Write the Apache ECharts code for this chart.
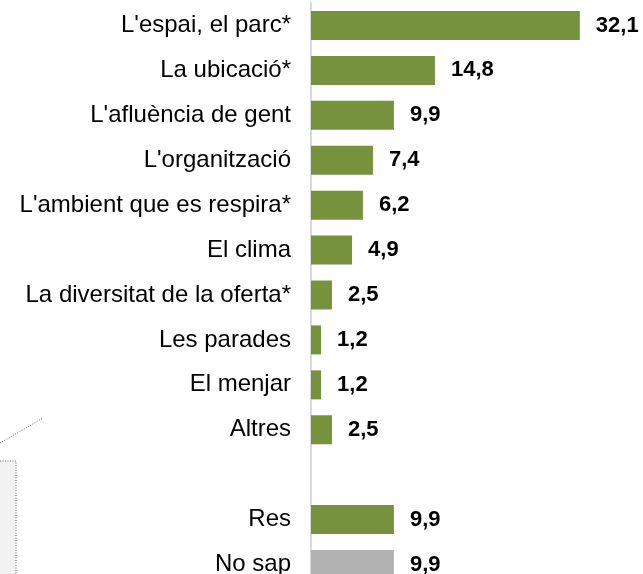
<!DOCTYPE html>
<html>
<head>
<meta charset="utf-8">
<script src="https://cdn.jsdelivr.net/npm/echarts@6/dist/echarts.min.js"></script>
<style>
  html, body { margin: 0; padding: 0; background: #fff; }
  #main { width: 643px; height: 574px; }
</style>
</head>
<body>
<div id="main"></div>
<script>
// categories, top to bottom ('' is the empty gap row)
const categories = [
  "L'espai, el parc*",
  'La ubicació*',
  "L'afluència de gent",
  "L'organització",
  "L'ambient que es respira*",
  'El clima',
  'La diversitat de la oferta*',
  'Les parades',
  'El menjar',
  'Altres',
  '',
  'Res',
  'No sap'
];
const values = [32.1, 14.8, 9.9, 7.4, 6.2, 4.9, 2.5, 1.2, 1.2, 2.5, null, 9.9, 9.9];
const greyCategories = ['No sap'];

const green = '#76923c';
const grey = '#b2b2b2';

var chartDom = document.getElementById('main');
var myChart = echarts.init(chartDom);

var option = {
  animation: false,
  grid: {
    left: 311,
    right: -3,
    top: 3,
    height: 584,
    containLabel: false,
    outerBoundsMode: 'none'
  },
  xAxis: {
    type: 'value',
    min: 0,
    max: 40,
    show: false
  },
  yAxis: {
    type: 'category',
    inverse: true,
    data: categories,
    axisLine: { show: true, lineStyle: { color: '#d9d9d9', width: 2 } },
    axisTick: { show: false },
    axisLabel: {
      margin: 20,
      fontFamily: 'Liberation Sans, Arial, sans-serif',
      fontSize: 24,
      color: '#000'
    }
  },
  series: [
    {
      type: 'bar',
      barWidth: 29,
      data: values.map((v, i) => ({
        value: v,
        itemStyle: { color: greyCategories.includes(categories[i]) ? grey : green }
      })),
      label: {
        show: true,
        position: 'right',
        distance: 16,
        fontFamily: 'Liberation Sans, Arial, sans-serif',
        fontSize: 22,
        fontWeight: 'bold',
        color: '#000',
        formatter: p => p.value == null ? '' : p.value.toFixed(1).replace('.', ',')
      }
    }
  ],
  // fragment of a neighbouring callout, cut by the left edge
  graphic: [
    {
      type: 'line',
      shape: { x1: 0, y1: 443, x2: 43, y2: 418 },
      style: { stroke: '#6e6e6e', lineWidth: 1, lineDash: [1, 1.5] }
    },
    {
      type: 'rect',
      shape: { x: -10, y: 461, width: 26, height: 130 },
      style: { fill: '#f2f2f2', stroke: '#6e6e6e', lineWidth: 1, lineDash: [1, 1.5] }
    }
  ]
};

option && myChart.setOption(option);
</script>
</body>
</html>
